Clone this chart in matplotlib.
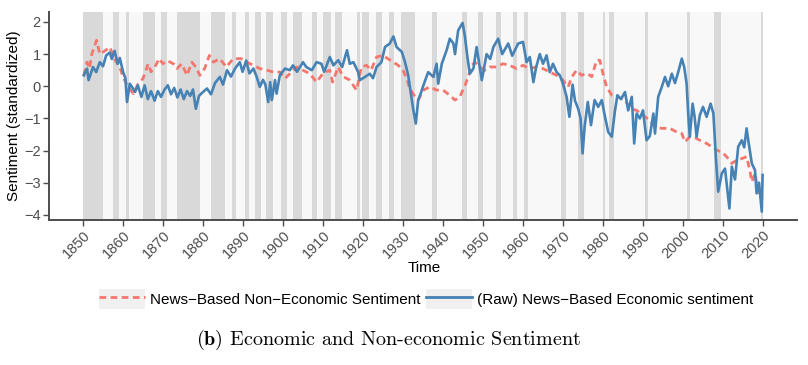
import numpy as np
import matplotlib
matplotlib.use("Agg")
import matplotlib.pyplot as plt
from matplotlib.patches import Patch
from matplotlib.lines import Line2D

plt.rcParams['font.family'] = ['Liberation Sans', 'DejaVu Sans']
plt.rcParams['mathtext.fontset'] = 'cm'

# (Raw) news-based economic sentiment
econ_year = [1850.2, 1851.0, 1851.4, 1852.5, 1853.3, 1854.2, 1855.0, 1855.8, 1856.7, 1857.2,
             1857.9, 1858.7, 1859.2, 1860.0, 1860.6, 1861.0, 1861.7, 1862.4, 1863.0, 1863.7,
             1864.6, 1865.4, 1866.2, 1867.0, 1867.9, 1868.7, 1869.5, 1870.4, 1871.2, 1872.0,
             1872.8, 1873.6, 1874.4, 1875.2, 1876.0, 1876.8, 1877.5, 1878.2, 1879.0, 1879.8,
             1881.0, 1882.0, 1883.0, 1884.2, 1885.0, 1886.0, 1887.0, 1888.0, 1889.2, 1889.9,
             1890.8, 1891.6, 1892.6, 1893.4, 1894.2, 1895.0, 1895.6, 1896.3, 1896.8, 1897.2,
             1898.0, 1898.4, 1899.2, 1900.5, 1901.7, 1902.5, 1903.5, 1905.0, 1905.8, 1907.2,
             1908.4, 1909.6, 1910.3, 1911.7, 1912.6, 1913.8, 1914.8, 1916.0, 1916.7, 1917.6,
             1918.8, 1919.2, 1920.5, 1921.7, 1922.5, 1923.4, 1924.6, 1925.5, 1926.7, 1927.6,
             1928.4, 1929.7, 1930.5, 1931.3, 1932.2, 1932.6, 1933.2, 1933.8, 1934.5, 1935.1,
             1936.3, 1937.6, 1938.4, 1938.8, 1939.7, 1940.9, 1941.7, 1942.6, 1943.0, 1943.8,
             1944.9, 1945.5, 1946.1, 1946.7, 1947.6, 1948.4, 1949.7, 1950.9, 1951.8, 1952.6,
             1953.8, 1954.8, 1956.3, 1957.3, 1958.8, 1960.0, 1960.9, 1961.7, 1962.6, 1963.3,
             1964.2, 1965.0, 1965.9, 1966.7, 1967.5, 1968.4, 1969.2, 1970.0, 1970.9, 1971.6,
             1972.4, 1973.0, 1973.8, 1974.4, 1974.9, 1975.4, 1976.2, 1977.0, 1977.9, 1978.8,
             1979.7, 1980.5, 1981.3, 1982.2, 1983.0, 1983.6, 1984.5, 1985.5, 1986.3, 1987.2,
             1987.8, 1988.4, 1989.2, 1990.0, 1990.9, 1991.7, 1992.6, 1993.0, 1993.8, 1994.7,
             1995.5, 1996.3, 1997.2, 1998.0, 1998.8, 1999.7, 2000.3, 2000.9, 2001.3, 2001.7,
             2002.4, 2002.9, 2003.4, 2004.2, 2005.0, 2005.9, 2006.9, 2007.6, 2008.2, 2008.8,
             2009.7, 2010.5, 2011.6, 2012.2, 2013.0, 2013.8, 2014.7, 2015.3, 2015.9, 2016.4,
             2017.2, 2018.0, 2018.4, 2019.0, 2019.7, 2019.9]
econ_val = [0.34, 0.55, 0.19, 0.60, 0.44, 0.75, 0.62, 0.96, 1.05, 0.85,
            1.10, 0.70, 0.88, 0.45, 0.25, -0.49, 0.08, -0.05, -0.18, 0.03,
            -0.33, 0.03, -0.40, -0.15, -0.45, -0.15, -0.33, -0.10, 0.03, -0.25,
            -0.05, -0.35, -0.10, -0.40, -0.15, -0.30, -0.10, -0.70, -0.30, -0.20,
            -0.07, -0.25, 0.10, 0.29, 0.05, 0.50, 0.30, 0.55, 0.75, 0.45,
            0.80, 0.40, 0.55, 0.30, -0.02, 0.20, 0.05, -0.49, 0.13, -0.43,
            0.19, -0.23, 0.34, 0.55, 0.50, 0.65, 0.45, 0.75, 0.60, 0.50,
            0.75, 0.70, 0.45, 0.91, 0.65, 0.81, 0.60, 1.12, 0.70, 0.75,
            0.44, 0.19, 0.29, 0.39, 0.25, 0.60, 0.75, 1.22, 1.33, 1.55,
            1.22, 1.07, 0.75, 0.34, -0.43, -0.75, -1.16, -0.43, -0.20, 0.03,
            0.44, 0.29, 0.70, 0.08, 0.70, 1.12, 1.48, 1.33, 1.00, 1.74,
            1.97, 1.53, 0.91, 0.39, 0.55, 1.22, 0.19, 1.00, 0.85, 1.22,
            1.48, 1.00, 1.33, 0.95, 1.33, 1.38, 0.75, 0.91, 0.13, 0.60,
            1.00, 0.70, 0.96, 0.44, 0.70, 0.44, 0.34, 0.08, -0.33, -0.95,
            0.05, -0.45, -0.70, -1.00, -2.09, -1.26, -0.49, -1.21, -0.43, -0.64,
            -0.43, -0.95, -1.42, -1.57, -0.75, -0.28, -0.40, -0.18, -0.75, -0.33,
            -1.78, -0.85, -1.00, -0.75, -1.68, -1.55, -0.85, -1.47, -0.33, -0.02,
            0.29, 0.00, 0.39, 0.10, 0.44, 0.86, 0.60, 0.08, -0.85, -1.57,
            -0.54, -0.95, -1.57, -0.90, -0.64, -0.95, -0.54, -0.85, -2.19, -3.28,
            -2.71, -2.56, -3.80, -2.50, -2.90, -1.88, -1.68, -1.90, -1.31, -1.75,
            -2.40, -2.61, -3.33, -3.00, -3.90, -2.76]

# news-based non-economic sentiment
nonecon_year = [1850.2, 1851.0, 1851.6, 1852.2, 1853.4, 1854.2, 1855.7, 1856.7, 1858.0, 1859.2,
                1860.0, 1861.3, 1862.6, 1863.8, 1865.0, 1866.3, 1867.0, 1868.0, 1869.0, 1870.0,
                1871.0, 1872.6, 1873.5, 1874.7, 1876.0, 1877.2, 1878.2, 1879.2, 1880.4, 1881.6,
                1882.6, 1884.2, 1885.8, 1887.6, 1889.5, 1891.0, 1892.6, 1894.2, 1896.0, 1897.6,
                1899.2, 1900.5, 1901.8, 1903.4, 1905.0, 1906.7, 1908.4, 1910.0, 1911.7, 1912.4,
                1913.8, 1915.0, 1916.6, 1918.4, 1919.6, 1920.9, 1922.0, 1923.4, 1925.0, 1926.3,
                1927.6, 1928.8, 1930.0, 1930.9, 1931.7, 1933.0, 1933.8, 1935.1, 1936.7, 1938.4,
                1940.0, 1941.7, 1943.0, 1944.2, 1945.5, 1946.3, 1947.2, 1948.0, 1949.2, 1950.5,
                1951.7, 1953.3, 1955.0, 1956.7, 1958.4, 1960.0, 1961.7, 1963.3, 1965.0, 1966.7,
                1968.4, 1970.0, 1971.3, 1972.2, 1973.4, 1974.6, 1976.0, 1977.2, 1978.4, 1979.2,
                1980.0, 1980.9, 1982.2, 1983.8, 1985.5, 1986.7, 1988.4, 1990.0, 1991.7, 1993.0,
                1994.7, 1996.7, 1998.4, 1999.7, 2000.5, 2001.7, 2003.0, 2004.2, 2005.9, 2007.2,
                2008.4, 2009.7, 2010.9, 2012.2, 2013.4, 2014.7, 2015.9, 2016.7, 2017.2, 2018.0,
                2018.8, 2019.7]
nonecon_val = [0.34, 0.75, 0.55, 1.00, 1.43, 1.00, 1.12, 1.22, 0.81, 0.60,
               0.29, -0.02, -0.23, 0.08, 0.24, 0.70, 0.45, 0.60, 0.86, 0.70,
               0.80, 0.70, 0.55, 0.70, 0.34, 0.75, 0.60, 0.34, 0.55, 0.96,
               0.75, 0.86, 0.60, 0.86, 0.86, 0.75, 0.65, 0.55, 0.50, 0.44,
               0.44, 0.24, 0.40, 0.60, 0.50, 0.39, 0.13, 0.40, 0.50, 0.13,
               0.60, 0.30, 0.20, -0.12, 0.60, 0.65, 0.50, 0.91, 0.96, 0.85,
               0.75, 0.65, 0.50, 0.24, -0.07, -0.33, -0.43, -0.12, -0.02, -0.12,
               -0.12, -0.28, -0.43, -0.33, 0.03, 0.29, 0.65, 0.75, 0.60, 0.50,
               0.60, 0.60, 0.70, 0.65, 0.55, 0.65, 0.55, 0.60, 0.55, 0.44,
               0.34, 0.19, -0.02, 0.29, 0.50, 0.34, 0.40, 0.30, 0.81, 0.81,
               0.39, -0.02, -0.28, -0.33, -0.43, -0.69, -0.75, -0.90, -1.06, -1.26,
               -1.31, -1.31, -1.42, -1.47, -1.73, -1.57, -1.60, -1.68, -1.78, -1.88,
               -1.99, -2.04, -2.19, -2.40, -2.30, -2.25, -2.19, -2.61, -2.97, -2.71,
               -3.28, -3.54]

# recession periods (shaded)
rec_start = [1850.0, 1857.45, 1860.79, 1865.0, 1869.46, 1873.6, 1882.1, 1887.3, 1890.4, 1893.0,
             1895.8, 1899.5, 1902.6, 1907.3, 1909.9, 1913.0, 1918.6, 1919.8, 1923.3, 1926.4,
             1929.6, 1937.3, 1944.8, 1948.8, 1953.3, 1957.4, 1960.3, 1969.6, 1973.8, 1980.0,
             1981.5, 1990.4, 2000.9, 2007.8, 2019.5]
rec_end = [1854.96, 1858.96, 1861.6, 1868.1, 1870.9, 1879.2, 1885.4, 1888.3, 1891.4, 1894.4,
           1897.5, 1900.9, 1904.7, 1908.4, 1911.9, 1914.8, 1919.25, 1921.5, 1924.7, 1927.8,
           1933.1, 1938.4, 1945.9, 1950.0, 1954.4, 1958.4, 1961.2, 1970.8, 1975.2, 1980.6,
           1982.8, 1991.2, 2001.8, 2009.4, 2019.9]

red = '#F4766D'
blue = '#4682B4'
grey = '#4d4d4d'

fig = plt.figure(figsize=(8.08, 3.65), dpi=100)
ax = fig.add_axes([49/808, 1 - 220/365, 748/808, 208/365])

ax.axvspan(1850, 2020, color='#f8f8f8', lw=0, zorder=0)
for s, e in zip(rec_start, rec_end):
    ax.axvspan(s, e, color='#d9d9d9', lw=0, zorder=1)

ax.plot(nonecon_year, nonecon_val, color=red, lw=2.0, dashes=(2.4, 1.6), zorder=3)
ax.plot(econ_year, econ_val, color=blue, lw=1.9, zorder=4)

ax.set_xlim(1841.5, 2028.5)
ax.set_ylim(-4.16, 2.31)
ax.set_xticks(np.arange(1850, 2021, 10))
ax.set_yticks(np.arange(-4, 3, 1))
ax.tick_params(axis='x', labelrotation=45, labelsize=10.5, colors=grey, length=4, width=1, pad=2)
ax.tick_params(axis='y', labelsize=10.5, colors=grey, length=4, width=1, pad=2)
for lab in ax.get_xticklabels():
    lab.set_ha('right')
    lab.set_va('top')
    lab.set_rotation_mode('anchor')
for sp in ['top', 'right']:
    ax.spines[sp].set_visible(False)
for sp in ['left', 'bottom']:
    ax.spines[sp].set_color(grey)
    ax.spines[sp].set_linewidth(1.4)
ax.set_ylabel('Sentiment (standardized)', fontsize=11, labelpad=2)

fig.text(424/808, 1 - 268/365, 'Time', ha='center', va='center', fontsize=11)

key_bg = '#f0f0f0'
h_red = (Patch(facecolor=key_bg, edgecolor='none'),
         Line2D([], [], color=red, lw=2.0, dashes=(2.4, 1.6)))
h_blue = (Patch(facecolor=key_bg, edgecolor='none'),
          Line2D([], [], color=blue, lw=2.0))
fig.legend([h_red, h_blue],
           ['News\u2212Based Non\u2212Economic Sentiment', '(Raw) News\u2212Based Economic sentiment'],
           loc='center', bbox_to_anchor=(426/808, 1 - 299/365), ncol=2, frameon=False,
           fontsize=11, handlelength=3.0, handleheight=1.6, handletextpad=0.3,
           columnspacing=0.4, borderpad=0)

fig.text(389/808, 1 - 340/365, r'$\mathbf{(b)}$ Economic and Non-economic Sentiment',
         ha='center', va='center', fontsize=14.5, family='cmr10')

fig.savefig('out.png', dpi=100)
